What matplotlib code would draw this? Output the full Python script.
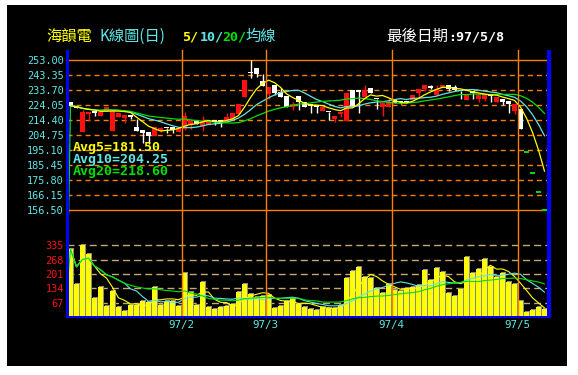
import numpy as np
import pandas as pd
import matplotlib
matplotlib.use('Agg')
import matplotlib.pyplot as plt
from matplotlib.patches import Rectangle
from matplotlib.lines import Line2D
import matplotlib.transforms as mtransforms

plt.rcParams['lines.scale_dashes'] = False

# ---------------- data ----------------
opens = [225.8, 223.2, 207.0, 218.3, 219.4, 217.2, 220.4, 207.5, 216.5, 215.5,
         217.6, 209.7, 208.0, 206.9, 204.3, 207.5, 209.5, 209.7, 206.9, 208.5,
         211.2, 214.4, 210.7, 211.2, 213.5, 213.5, 213.3, 214.4, 218.1, 229.4,
         244.6, 247.7, 239.5, 231.1, 236.9, 232.6, 230.0, 223.0, 229.8, 226.2,
         224.5, 223.3, 220.2, 219.7, 215.2, 218.5, 214.0, 233.7, 232.8, 229.0,
         234.8, 227.9, 222.6, 222.6, 227.7, 226.0, 226.3, 227.3, 231.6, 234.1,
         236.3, 230.5, 235.4, 236.9, 235.4, 233.0, 227.3, 232.3, 227.9, 227.9,
         230.2, 226.2, 227.7, 226.5, 220.4, 221.3, 194.0, 180.5, 168.0, 156.5]
highs = [225.8, 223.5, 221.0, 219.5, 219.4, 219.4, 223.0, 220.4, 219.1, 217.6,
         217.6, 214.8, 208.0, 206.9, 210.1, 209.7, 209.5, 209.7, 209.0, 219.5,
         214.4, 214.4, 217.0, 213.8, 213.5, 213.5, 218.7, 218.7, 224.5, 240.1,
         253.0, 247.7, 244.0, 235.4, 236.9, 234.8, 230.0, 226.2, 229.8, 226.2,
         225.0, 224.0, 222.8, 219.7, 217.0, 219.7, 231.6, 233.7, 233.7, 236.9,
         234.8, 227.9, 225.1, 228.4, 227.7, 226.5, 226.8, 230.3, 234.1, 236.9,
         236.9, 236.9, 236.9, 236.9, 236.9, 233.0, 230.3, 232.3, 230.2, 230.2,
         230.2, 229.5, 227.7, 226.5, 224.5, 221.3, 194.0, 180.5, 168.0, 156.5]
lows = [223.6, 222.2, 207.0, 213.8, 217.0, 217.2, 220.4, 207.5, 216.5, 212.3,
        215.0, 207.5, 199.4, 199.0, 204.3, 206.9, 206.0, 206.2, 206.9, 208.0,
        208.5, 211.6, 207.3, 211.2, 211.0, 210.0, 213.3, 214.4, 218.1, 229.4,
        241.6, 242.3, 236.3, 227.7, 230.5, 229.4, 223.0, 220.8, 220.8, 222.6,
        218.7, 218.7, 220.2, 214.4, 213.3, 216.5, 214.0, 223.0, 219.1, 229.0,
        232.0, 221.3, 217.0, 222.6, 225.1, 225.0, 225.2, 227.3, 229.0, 233.0,
        234.3, 230.5, 235.4, 233.3, 233.0, 227.7, 227.3, 227.7, 226.2, 226.5,
        226.2, 226.2, 224.0, 219.1, 218.3, 208.5, 194.0, 180.5, 168.0, 156.5]
closes = [223.6, 222.4, 219.7, 219.5, 219.0, 219.4, 222.6, 220.4, 219.1, 217.6,
          216.5, 207.5, 206.2, 204.3, 209.7, 209.0, 209.2, 208.0, 209.0, 217.0,
          214.4, 211.6, 213.8, 213.8, 213.3, 213.3, 216.5, 218.7, 224.5, 240.1,
          244.4, 244.0, 236.3, 235.4, 232.0, 229.4, 223.0, 224.7, 226.2, 222.6,
          223.5, 223.0, 222.8, 219.4, 217.0, 219.7, 231.6, 223.0, 232.5, 233.7,
          232.0, 227.6, 225.1, 225.1, 225.1, 225.7, 226.0, 230.3, 234.1, 236.9,
          234.8, 234.5, 236.9, 234.1, 233.7, 232.8, 230.3, 232.0, 230.2, 230.2,
          230.0, 229.5, 226.0, 225.0, 224.5, 208.5, 194.0, 180.5, 168.0, 156.5]
volumes = [316, 153, 337, 294, 87, 139, 51, 123, 48, 28,
           55, 55, 75, 72, 142, 57, 76, 76, 53, 204,
           116, 55, 162, 45, 36, 45, 51, 61, 115, 154,
           108, 92, 98, 103, 42, 51, 76, 87, 61, 48,
           37, 33, 48, 41, 40, 55, 181, 214, 232, 185,
           181, 134, 111, 153, 126, 123, 134, 139, 148, 220,
           173, 228, 209, 114, 98, 129, 279, 204, 223, 270,
           232, 189, 207, 164, 153, 76, 22, 33, 45, 36]
month_labels = ['97/2', '97/3', '97/4', '97/5']
month_start_idx = [19, 33, 54, 75]
price_ticks = [253.00, 243.35, 233.70, 224.05, 214.40, 204.75, 195.10,
               185.45, 175.80, 166.15, 156.50]
vol_ticks = [67, 134, 201, 268, 335]
stock_name = '海韻電'
last_date = '97/5/8'

# ---------------- layout helpers ----------------
W, H = 578, 375
fig = plt.figure(figsize=(W / 100, H / 100), dpi=100)
fig.patch.set_facecolor('white')


def fx(px):
    return px / W


def fy(py):
    return 1 - py / H


fig.add_artist(Rectangle((fx(7), fy(366)), fx(567) - fx(7), fy(5) - fy(366),
                         transform=fig.transFigure, facecolor='black',
                         edgecolor='none', zorder=0))

YEL = '#ffff00'
CYA = '#5fe6e6'
GRN = '#00e000'
RED = '#ff1010'
ORG = '#ff8000'
TAN = '#c8a878'
BLU = '#0000ff'

n = len(closes)
x = np.arange(n)
XL, XR = 67, 550
xlim = ((XL - 70.5) / 6.0, (XR - 70.5) / 6.0)

# price axes
PT, PB = 50, 215
ppx = 9.65 / 15.0
ax_p = fig.add_axes([fx(XL), fy(PB), fx(XR) - fx(XL), fy(PT) - fy(PB)])
ax_p.set_facecolor('none')
ax_p.set_xlim(*xlim)
ax_p.set_ylim(156.5 - (PB - 210) * ppx, 253.0 + (60 - PT) * ppx)

# volume axes
VT, VB = 235, 317
vpx = 67 / 14.35
ax_v = fig.add_axes([fx(XL), fy(VB), fx(XR) - fx(XL), fy(VT) - fy(VB)])
ax_v.set_facecolor('none')
ax_v.set_xlim(*xlim)
ax_v.set_ylim(0, (VB - VT) * vpx)

for ax in (ax_p, ax_v):
    for s in ax.spines.values():
        s.set_visible(False)
    ax.set_xticks([])
    ax.tick_params(axis='y', length=0, pad=2.2)

mono = 'DejaVu Sans Mono'
ax_p.set_yticks(price_ticks)
ax_p.set_yticklabels([f'{v:.2f}' for v in price_ticks], color=CYA,
                     fontsize=7.4, family=mono)
ax_v.set_yticks(vol_ticks)
ax_v.set_yticklabels([str(v) for v in vol_ticks], color=RED,
                     fontsize=7.4, family=mono)

# grid
for v in price_ticks:
    if v in (price_ticks[0], price_ticks[-1]):
        ax_p.axhline(v, color=ORG, lw=1.0, zorder=1)
    else:
        ax_p.axhline(v, color=ORG, lw=1.0, ls=(0, (3.6, 2.9)), zorder=1)
for v in vol_ticks:
    ax_v.axhline(v, color=TAN, lw=1.0, ls=(0, (5.0, 3.0)), zorder=1)

# month lines and labels
trans = mtransforms.blended_transform_factory(ax_p.transData, fig.transFigure)
for i, lab in zip(month_start_idx, month_labels):
    fig.add_artist(Line2D([i - 0.5, i - 0.5], [fy(317), fy(50)], transform=trans,
                          color=ORG, lw=1.0, zorder=1))
    fig.text(i - 0.5, fy(325), lab, transform=trans, color=CYA, fontsize=7.8,
             family=mono, ha='center', va='center')

# candles
bw = 0.75
for i in range(n):
    o, h, l, c = opens[i], highs[i], lows[i], closes[i]
    if c > o:
        col = RED
    elif c < o:
        col = 'white'
    else:
        col = GRN
    if col == GRN:
        ax_p.hlines(c, i - 0.42, i + 0.42, color=GRN, lw=1.4, zorder=3)
        continue
    ax_p.vlines(i, l, h, color=col, lw=1.0, zorder=3)
    bot = min(o, c)
    hgt = max(abs(c - o), 0.9)
    ax_p.bar(i, hgt, bottom=bot, width=bw, color=col, edgecolor='none',
             zorder=3)

# price MAs
cl = pd.Series(closes)
ma5 = cl.rolling(5, min_periods=1).mean()
ma10 = cl.rolling(10, min_periods=1).mean()
ma20 = cl.rolling(20, min_periods=1).mean()
ax_p.plot(x, ma10, color=CYA, lw=0.9, zorder=4)
ax_p.plot(np.r_[-1, x], np.r_[0, ma20], color=GRN, lw=0.9, zorder=4)
ax_p.plot(x, ma5, color=YEL, lw=0.9, zorder=5)

# volume bars with gray shadow
vol = np.array(volumes, dtype=float)
ax_v.bar(x + 1 / 6, vol + vpx, width=bw, color='#8a8a8a', edgecolor='none',
         zorder=2)
ax_v.bar(x, vol, width=bw, color=YEL, edgecolor='none', zorder=3)
vs = pd.Series(volumes, dtype=float)
vma5 = vs.rolling(5, min_periods=1).mean()
vma10 = vs.rolling(10, min_periods=1).mean()
vma20 = vs.rolling(20, min_periods=1).mean()
ax_v.plot(np.r_[-1, x], np.r_[0, vma5], color=YEL, lw=0.8, zorder=4)
ax_v.plot(x, vma10, color=CYA, lw=0.8, zorder=4)
ax_v.plot(np.r_[-1, x], np.r_[0, vma20], color=GRN, lw=0.8, zorder=4)

# blue borders
for (bx, by, bwid, bh) in [(66, 50, 3, 268), (547, 50, 3.5, 268),
                           (66, 315.5, 484, 2.5)]:
    fig.add_artist(Rectangle((fx(bx), fy(by + bh)), bwid / W, bh / H,
                             transform=fig.transFigure, facecolor=BLU,
                             edgecolor='none', zorder=10))

# Avg texts
avg_y = [147.7, 159.5, 171.7]
avg_cols = [YEL, CYA, GRN]
avg_txt = [f'Avg5={ma5.iloc[-1]:.2f}', f'Avg10={ma10.iloc[-1]:.2f}',
           f'Avg20={ma20.iloc[-1]:.2f}']
for yy, cc, tt in zip(avg_y, avg_cols, avg_txt):
    fig.text(fx(72.5), fy(yy), tt, color=cc, fontsize=9.6, family=mono,
             fontweight='bold', va='center', ha='left', zorder=11)

# title texts
cjk = ['Noto Sans CJK TC', 'DejaVu Sans']
ty = fy(36.5)
fig.text(fx(46.5), ty, stock_name, color=YEL, fontsize=11, family=cjk,
         va='center', ha='left')
fig.text(fx(100), ty, 'K線圖(日)', color=CYA, fontsize=11, family=cjk,
         va='center', ha='left')
fig.text(fx(182.5), ty, '5/', color=YEL, fontsize=9.6, family=mono,
         fontweight='bold', va='center', ha='left')
fig.text(fx(200), ty, '10/', color=CYA, fontsize=9.6, family=mono,
         fontweight='bold', va='center', ha='left')
fig.text(fx(222.5), ty, '20/', color=GRN, fontsize=9.6, family=mono,
         fontweight='bold', va='center', ha='left')
fig.text(fx(245), ty, '均線', color=CYA, fontsize=11, family=cjk,
         va='center', ha='left')
fig.text(fx(386.5), ty, '最後日期', color='white', fontsize=11.2,
         family=cjk, va='center', ha='left')
fig.text(fx(448), ty, ':' + last_date, color='white', fontsize=9.6,
         family=mono, fontweight='bold', va='center', ha='left')

fig.savefig('out.png', dpi=100, facecolor=fig.get_facecolor())
